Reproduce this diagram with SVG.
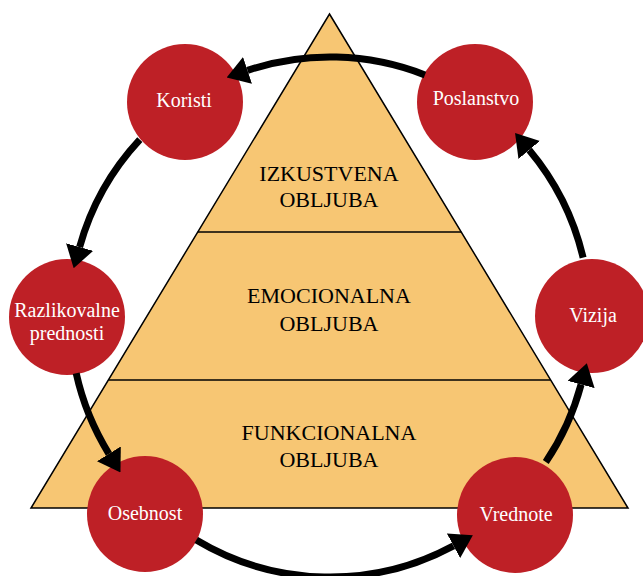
<svg xmlns="http://www.w3.org/2000/svg" width="643" height="576" viewBox="0 0 643 576">
  <style>
    .tier { fill: #F7C673; stroke: #000; stroke-width: 1.5; stroke-linejoin: miter; }
    .divider { stroke: #000; stroke-width: 1.5; }
    .tier-label { font-family: "Liberation Serif", "Times New Roman", serif; font-size: 22px; fill: #000; text-anchor: middle; }
    .node circle { fill: #BE2026; }
    .node text { font-family: "Liberation Serif", "Times New Roman", serif; font-size: 20px; fill: #fff; text-anchor: middle; }
    .link { fill: none; stroke: #000; stroke-width: 7; }
  </style>
  <defs>
    <marker id="head" markerUnits="userSpaceOnUse" markerWidth="22" markerHeight="28" viewBox="0 0 22 28" refX="0" refY="14" orient="auto">
      <path d="M0,0 L22,14 L0,28 Z" fill="#000"/>
    </marker>
  </defs>

  <!-- pyramid with three tiers -->
  <g id="pyramid">
    <polygon class="tier" points="329.5,14 628,508 31,508"/>
    <line class="divider" x1="197.8" y1="232" x2="461.2" y2="232"/>
    <line class="divider" x1="108.4" y1="380" x2="550.6" y2="380"/>
    <text class="tier-label" x="329" y="181">IZKUSTVENA</text>
    <text class="tier-label" x="329" y="207">OBLJUBA</text>
    <text class="tier-label" x="329" y="303">EMOCIONALNA</text>
    <text class="tier-label" x="329" y="331">OBLJUBA</text>
    <text class="tier-label" x="329" y="440">FUNKCIONALNA</text>
    <text class="tier-label" x="329" y="467">OBLJUBA</text>
  </g>

  <!-- ring nodes -->
  <g id="koristi" class="node">
    <circle cx="185" cy="102" r="58"/>
    <text x="184" y="107">Koristi</text>
  </g>
  <g id="poslanstvo" class="node">
    <circle cx="475" cy="102" r="58"/>
    <text x="476" y="105">Poslanstvo</text>
  </g>
  <g id="razlikovalne-prednosti" class="node">
    <circle cx="67" cy="317" r="58"/>
    <text x="67" y="317">Razlikovalne</text>
    <text x="67" y="340">prednosti</text>
  </g>
  <g id="vizija" class="node">
    <circle cx="592" cy="316" r="57"/>
    <text x="593" y="322">Vizija</text>
  </g>
  <g id="osebnost" class="node">
    <circle cx="145" cy="514" r="58"/>
    <text x="145" y="520">Osebnost</text>
  </g>
  <g id="vrednote" class="node">
    <circle cx="515" cy="515" r="58"/>
    <text x="516" y="521">Vrednote</text>
  </g>

  <!-- cycle arrows along a ring centred at (330,317), r = 260 -->
  <g id="connectors">
    <path class="link" marker-end="url(#head)" d="M424.9,74.9 A260,260 0 0 0 247.5,70.4"/>
    <path class="link" marker-end="url(#head)" d="M139.8,139.7 A260,260 0 0 0 79.6,247.1"/>
    <path class="link" marker-end="url(#head)" d="M76.2,373.3 A260,260 0 0 0 108.9,453.8"/>
    <path class="link" marker-end="url(#head)" d="M196.3,540 A260,260 0 0 0 453.5,545.8"/>
    <path class="link" marker-end="url(#head)" d="M545.8,462 A260,260 0 0 0 581.1,384.5"/>
    <path class="link" marker-end="url(#head)" d="M583.1,257.6 A260,260 0 0 0 529.2,149.9"/>
  </g>
</svg>
